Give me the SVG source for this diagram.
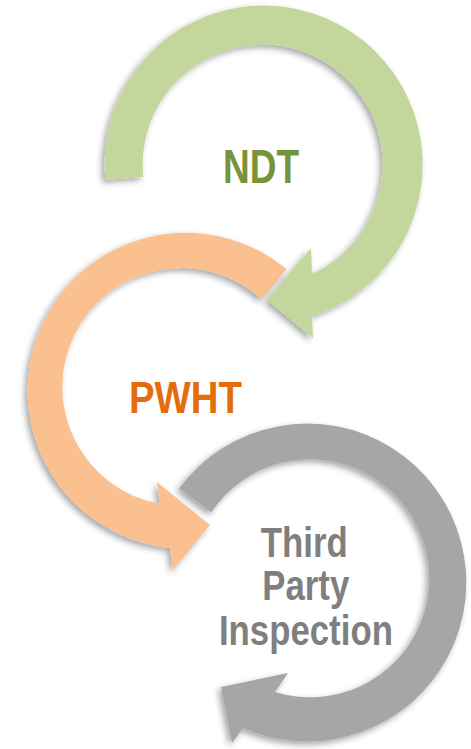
<svg xmlns="http://www.w3.org/2000/svg" width="471" height="749" viewBox="0 0 471 749">
  <style>
    .lbl { font-family: "Liberation Sans Narrow", "Liberation Sans", Arial, sans-serif; font-weight: bold; text-anchor: middle; }
    .arrow { filter: url(#shadow); }
  </style>
  <defs>
    <filter id="shadow" x="-20%" y="-20%" width="140%" height="140%">
      <feDropShadow dx="-3" dy="3" stdDeviation="3" flood-color="#000" flood-opacity="0.35"/>
    </filter>
  </defs>
  <rect width="471" height="749" fill="#FFFFFF"/>

  <g id="node-third-party-inspection">
    <path class="arrow" fill="#A6A6A6" d="M179.2,488.4 A159,159 0 1 1 243,728 L232,743 L221,687 L288,673 L275,692 A119,119 0 1 0 211.3,512.2 Z"/>
    <text class="lbl" x="304.2" y="556.7" font-size="42" fill="#7F7F7F" textLength="87" lengthAdjust="spacingAndGlyphs">Third</text>
    <text class="lbl" x="305.8" y="600" font-size="42" fill="#7F7F7F" textLength="87" lengthAdjust="spacingAndGlyphs">Party</text>
    <text class="lbl" x="305.9" y="645" font-size="42" fill="#7F7F7F" textLength="174" lengthAdjust="spacingAndGlyphs">Inspection</text>
  </g>

  <g id="node-pwht">
    <path class="arrow" fill="#FAC090" d="M286.5,269.1 A158,158 0 1 0 170,548 L173,570 L210,525 L157,482 L160,504 A119,119 0 1 1 261.7,299.2 Z"/>
    <text class="lbl" x="185.4" y="413.3" font-size="44" fill="#E46C0A" textLength="113" lengthAdjust="spacingAndGlyphs">PWHT</text>
  </g>

  <g id="node-ndt">
    <path class="arrow" fill="#C3D69B" d="M105.4,179.8 A159,159 0 1 1 312,316 L313,338 L267,300 L311,248 L312,274 A120,120 0 1 0 143.3,177 Z"/>
    <text class="lbl" x="261" y="183.3" font-size="48" fill="#77933C" textLength="76" lengthAdjust="spacingAndGlyphs">NDT</text>
  </g>

  <g id="connectors"></g>
</svg>
